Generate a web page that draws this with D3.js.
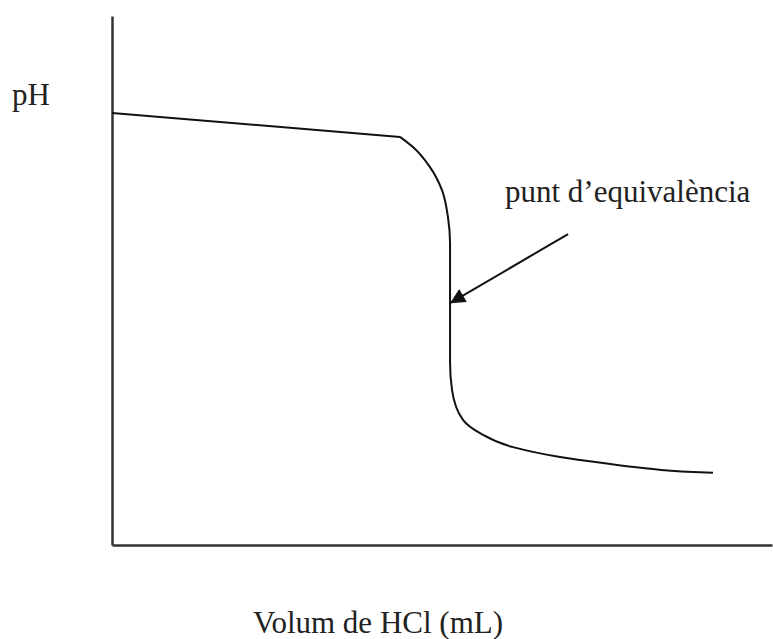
<!DOCTYPE html>
<html>
<head>
<meta charset="utf-8">
<script src="https://cdn.jsdelivr.net/npm/d3@7"></script>
<style>
  html, body { margin: 0; padding: 0; background: #fff; }
  svg { display: block; }
  text { font-family: "Liberation Serif", "Times New Roman", serif; fill: #222; }
</style>
</head>
<body>
<div id="chart"></div>
<script>
// Schematic titration curve (volume of HCl in mL, pH) — no numeric ticks in the original
const flatVolume = [0, 21.82];
const flatPH = [11.43, 10.80];
const dropVolume = [21.82, 22.80, 24.09, 25.00, 25.45, 25.61, 25.61, 25.61, 25.76, 26.59, 27.88, 30.38, 33.94, 37.20, 40.23, 44.02, 45.53];
const dropPH = [10.80, 10.53, 10.00, 9.39, 8.68, 7.99, 6.40, 4.82, 4.10, 3.31, 2.96, 2.59, 2.33, 2.17, 2.04, 1.93, 1.91];
const arrowVolume = [34.55, 25.61];
const arrowPH = [8.23, 6.40];
const xDomain = [0, 50];
const yDomain = [0, 14];
const yLabel = "pH";
const xLabel = "Volum de HCl (mL)";
const annotation = "punt d\u2019equivalència";

const W = 773, H = 639;
const svg = d3.select("#chart").append("svg").attr("width", W).attr("height", H);

const x = d3.scaleLinear().domain(xDomain).range([112, 772]);
const y = d3.scaleLinear().domain(yDomain).range([545, 16]);

// axes (no ticks)
const gx = svg.append("g").attr("transform", `translate(0,${y(0)})`)
  .call(d3.axisBottom(x).tickValues([]).tickSizeOuter(0));
const gy = svg.append("g").attr("transform", `translate(${x(0)},0)`)
  .call(d3.axisLeft(y).tickValues([]).tickSizeOuter(0));
[gx, gy].forEach(g => g.select(".domain").attr("stroke", "#333").attr("stroke-width", 2.5));

// curve
const flat = flatVolume.map((v, i) => [v, flatPH[i]]);
const drop = dropVolume.map((v, i) => [v, dropPH[i]]);
svg.append("path").datum(flat)
  .attr("d", d3.line().x(d => x(d[0])).y(d => y(d[1])).curve(d3.curveLinear))
  .attr("fill", "none").attr("stroke", "#111").attr("stroke-width", 2);
svg.append("path").datum(drop)
  .attr("d", d3.line().x(d => x(d[0])).y(d => y(d[1])).curve(d3.curveMonotoneY))
  .attr("fill", "none").attr("stroke", "#111").attr("stroke-width", 2);

// arrow
svg.append("defs").append("marker")
  .attr("id", "ah").attr("viewBox", "0 0 10 10")
  .attr("refX", 10).attr("refY", 5)
  .attr("markerWidth", 8.5).attr("markerHeight", 7.5)
  .attr("markerUnits", "strokeWidth")
  .attr("orient", "auto")
  .append("path").attr("d", "M0,0 L10,5 L0,10 Z").attr("fill", "#111");
const arrow = arrowVolume.map((v, i) => [v, arrowPH[i]]);
svg.append("path").datum(arrow)
  .attr("d", d3.line().x(d => x(d[0])).y(d => y(d[1])))
  .attr("stroke", "#111").attr("stroke-width", 2).attr("fill", "none")
  .attr("marker-end", "url(#ah)");

// labels
svg.append("text").attr("x", 12).attr("y", 105).attr("font-size", 31).text(yLabel);
svg.append("text").attr("x", 505).attr("y", 202).attr("font-size", 31).text(annotation);
svg.append("text").attr("x", 253).attr("y", 633).attr("font-size", 31).text(xLabel);
</script>
</body>
</html>
